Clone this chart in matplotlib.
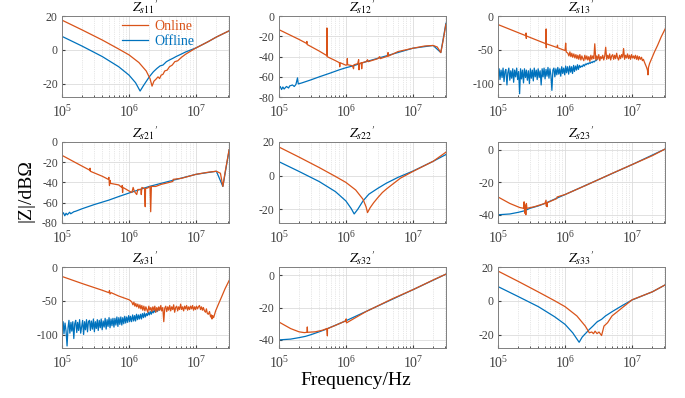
import matplotlib
matplotlib.use('Agg')
import matplotlib.pyplot as plt
from matplotlib.ticker import LogLocator, NullFormatter

# ---- data (frequency in Hz, |Z| in dB) ----
f11_on = [1e5, 2e5, 4e5, 7e5, 1e6, 1.4e6, 1.8e6, 2.05e6, 2.2e6, 2.35e6, 2.5e6, 2.7e6, 2.85e6, 3e6,
          3.2e6, 3.4e6, 3.7e6, 4e6, 4.4e6, 4.8e6, 5.3e6, 6e6, 7e6, 8.5e6, 1e7, 1.5e7, 2e7, 3.1e7]
z11_on = [17.6, 11.8, 5.8, 0.5, -3, -7.5, -12.5, -17, -21.5, -18.5, -17.5, -16, -17, -15,
          -14.5, -12.5, -12, -10, -9, -7, -6.5, -4.5, -2.5, -0.5, 1.2, 4.8, 7.6, 11.3]
f11_off = [1e5, 2e5, 4e5, 7e5, 1e6, 1.25e6, 1.46e6, 1.65e6, 2e6, 2.3e6, 2.6e6, 2.9e6, 3.2e6, 3.6e6,
           4e6, 4.5e6, 5e6, 6e6, 7e6, 1e7, 1.5e7, 2e7, 3.1e7]
z11_off = [8, 2.2, -4, -10, -15, -19.5, -24.4, -21, -16, -13, -11, -9.5, -9, -7,
           -6, -5, -4, -2.5, -1.2, 1.2, 4.8, 7.6, 11.3]

f12_on = [1e5, 2e5, 2.6e5, 2.62e5, 2.64e5, 4e5, 5.2e5, 5.22e5, 5.24e5, 7e5, 8e5, 8.1e5, 8.2e5, 1e6,
          1.04e6, 1.05e6, 1.06e6, 1.25e6, 1.3e6, 1.32e6, 1.5e6, 1.55e6, 1.57e6, 1.6e6, 1.7e6, 1.72e6,
          1.75e6, 2e6, 2.1e6, 2.15e6, 3e6, 3.2e6, 3.25e6, 4.2e6, 4.25e6, 4.3e6, 6e6, 1e7, 1.5e7, 2e7,
          2.3e7, 2.6e7, 2.8e7, 3.1e7]
z12_on = [-13.3, -23, -27, -25, -28, -34.5, -39, -11.7, -40, -44, -46, -50, -46, -48.5,
          -48, -42, -48, -49, -52, -48, -47, -43, -53, -47, -46, -52,
          -46, -45, -43, -45, -42, -40, -42, -39.5, -36, -39.5, -35, -31.7, -29.5, -29,
          -30.5, -36, -25, -8]
f12_off = [1e5, 1.05e5, 1.1e5, 1.15e5, 1.2e5, 1.3e5, 1.4e5, 1.45e5, 1.6e5, 1.7e5, 1.8e5, 1.9e5,
           1.95e5, 2.2e5, 3e5, 4e5, 6e5, 8e5, 1e6, 1.3e6, 2e6, 1e7, 2e7, 2.6e7, 3.1e7]
z12_off = [-71.7, -69.5, -72.5, -70, -72, -69.5, -71, -69, -68, -69.5, -67.5, -61,
           -67, -66, -63, -60, -56, -53, -51, -49, -45, -31.7, -29, -36, -7]

# dense grid for the noisy low-frequency offline traces
f_low = [1.00e5, 1.04e5, 1.07e5, 1.11e5, 1.15e5, 1.19e5, 1.23e5, 1.27e5, 1.31e5, 1.36e5,
         1.40e5, 1.45e5, 1.50e5, 1.55e5, 1.60e5, 1.66e5, 1.71e5, 1.77e5, 1.83e5, 1.90e5,
         1.96e5, 2.03e5, 2.10e5, 2.17e5, 2.24e5, 2.32e5, 2.40e5, 2.48e5, 2.57e5, 2.65e5,
         2.74e5, 2.84e5, 2.94e5, 3.04e5, 3.14e5, 3.25e5, 3.36e5, 3.47e5, 3.59e5, 3.72e5,
         3.84e5, 3.97e5, 4.11e5, 4.25e5, 4.40e5, 4.55e5, 4.70e5, 4.86e5, 5.03e5, 5.20e5,
         5.38e5, 5.56e5, 5.75e5, 5.95e5, 6.15e5, 6.36e5, 6.58e5, 6.81e5, 7.04e5, 7.28e5,
         7.53e5, 7.79e5, 8.06e5, 8.33e5, 8.62e5, 8.91e5, 9.21e5, 9.53e5, 9.86e5, 1.02e6,
         1.05e6, 1.09e6, 1.13e6, 1.17e6, 1.21e6, 1.25e6, 1.29e6, 1.34e6, 1.38e6, 1.43e6,
         1.48e6, 1.53e6, 1.58e6, 1.64e6, 1.69e6, 1.75e6, 1.81e6, 1.87e6, 1.94e6, 2.00e6,
         2.07e6, 2.14e6, 2.22e6, 2.29e6, 2.37e6, 2.45e6, 2.54e6, 2.62e6, 2.71e6, 2.81e6,
         2.90e6, 3.00e6]
# dense grid for the noisy mid-frequency online traces
f_band = [1.10e6, 1.14e6, 1.18e6, 1.22e6, 1.26e6, 1.30e6, 1.35e6, 1.40e6, 1.45e6, 1.50e6,
          1.55e6, 1.60e6, 1.66e6, 1.72e6, 1.78e6, 1.84e6, 1.90e6, 1.97e6, 2.04e6, 2.11e6,
          2.18e6, 2.26e6, 2.34e6, 2.42e6, 2.50e6, 2.59e6, 2.68e6, 2.77e6, 2.87e6, 2.97e6,
          3.07e6, 3.18e6, 3.29e6, 3.40e6, 3.52e6, 3.64e6, 3.77e6, 3.90e6, 4.03e6, 4.17e6,
          4.32e6, 4.47e6, 4.62e6, 4.78e6, 4.95e6, 5.12e6, 5.30e6, 5.48e6, 5.67e6, 5.87e6,
          6.07e6, 6.28e6, 6.50e6, 6.72e6, 6.96e6, 7.20e6, 7.45e6, 7.71e6, 7.97e6, 8.25e6,
          8.54e6, 8.83e6, 9.14e6, 9.45e6, 9.78e6, 1.01e7, 1.05e7, 1.08e7, 1.12e7, 1.16e7,
          1.20e7, 1.24e7, 1.28e7, 1.33e7, 1.38e7, 1.42e7, 1.47e7]

f13_head = [1e5, 2e5, 2.6e5, 2.62e5, 2.64e5, 2.66e5, 4e5, 5.2e5, 5.22e5, 5.24e5, 5.26e5,
            7.6e5, 7.7e5, 7.8e5, 1e6, 1.02e6, 1.04e6]
z13_head = [-12.5, -24.5, -29, -25, -33, -29.5, -36.5, -41, -19, -47, -41,
            -46.5, -43, -47, -51, -40, -53]
z13_band = [-55, -59, -53, -60, -55, -61, -56, -62, -57, -63,
            -58, -64, -57, -65, -59, -63, -66, -58, -64, -59,
            -65, -60, -67, -58, -64, -59, -63, -41, -65, -59,
            -64, -57, -66, -60, -63, -58, -65, -59, -46, -64,
            -58, -63, -56, -65, -59, -57, -64, -58, -63, -55,
            -62, -65, -58, -63, -57, -61, -48, -64, -58, -62,
            -56, -63, -58, -64, -57, -62, -59, -63, -58, -64,
            -59, -65, -60, -64, -61, -66, -64]
f13_tail = [1.52e7, 1.58e7, 1.64e7, 1.69e7, 1.72e7, 1.75e7, 1.82e7, 1.95e7, 2.15e7, 2.4e7, 2.7e7, 3.1e7]
z13_tail = [-68, -72, -76, -80, -87, -76, -70, -63, -53, -43, -31, -19]
z13_off = [-88, -78, -94, -80, -91, -77, -97, -82, -79, -102,
           -84, -77, -95, -81, -92, -78, -98, -80, -90, -77,
           -94, -82, -115, -78, -93, -80, -99, -78, -91, -80,
           -95, -81, -100, -78, -92, -80, -96, -77, -90, -80,
           -94, -78, -91, -81, -102, -78, -90, -77, -93, -79,
           -89, -76, -92, -78, -88, -110, -80, -77, -90, -78,
           -87, -76, -86, -78, -89, -75, -85, -77, -87, -74,
           -84, -75, -86, -74, -83, -75, -85, -73, -82, -74,
           -80, -72, -79, -73, -76, -74, -75, -72, -74, -71,
           -72, -70, -71, -69, -70, -68, -69, -67, -68, -66,
           -66, -64]

f21_on = [1e5, 2e5, 2.6e5, 2.62e5, 2.64e5, 4e5, 4.9e5, 5e5, 5.1e5, 5.2e5, 5.3e5, 7e5, 7.8e5, 7.9e5,
          8e5, 8.1e5, 1e6, 1.1e6, 1.15e6, 1.2e6, 1.3e6, 1.35e6, 1.5e6, 1.52e6, 1.55e6, 1.7e6, 1.74e6,
          1.76e6, 1.9e6, 2.05e6, 2.1e6, 2.15e6, 2.5e6, 3e6, 4e6, 4.5e6, 4.55e6, 6e6, 1e7, 1.5e7, 2e7,
          2.3e7, 2.5e7, 2.7e7, 3.1e7]
z21_on = [-13.3, -24, -28, -26, -29, -34, -37, -35, -43, -38, -41, -42.5, -45, -43,
          -50, -45, -48.5, -50, -45, -49, -52, -47, -47, -52, -45, -46, -64,
          -46, -45.5, -44, -69, -44, -44, -42, -40, -39, -37, -36, -32, -30, -29,
          -31, -44, -30, -7.6]
f21_off = [1e5, 1.05e5, 1.1e5, 1.15e5, 1.2e5, 1.3e5, 1.35e5, 1.5e5, 1.6e5, 2e5, 3e5, 5e5, 7e5, 1e6,
           2e6, 1e7, 2e7, 2.5e7, 3.1e7]
z21_off = [-71.7, -70, -73, -70.5, -72, -69.5, -71, -69, -68.5, -66, -62, -57.5, -54, -50.5,
           -44, -32, -29, -44, -8]

f22_on = [1e5, 2e5, 4e5, 7e5, 1e6, 1.4e6, 1.8e6, 2e6, 2.1e6, 2.3e6, 2.6e6, 3e6, 3.5e6, 4e6, 5e6,
          6.5e6, 1e7, 2e7, 3.1e7]
z22_on = [17, 11, 4.8, -0.5, -4, -8.5, -14, -18.5, -21.9, -19, -16, -13, -10, -8, -5,
          -1.5, 2.5, 8.5, 13.9]
f22_off = [1e5, 2e5, 4e5, 7e5, 1e6, 1.2e6, 1.33e6, 1.5e6, 1.8e6, 2.2e6, 3e6, 4e6, 6e6, 1e7, 2e7, 3.1e7]
z22_off = [8.3, 2.5, -3.5, -9.5, -15, -19.5, -22.7, -20, -15, -11, -7.5, -4.5, -1, 2.7, 8.5, 12.5]

f23_on = [1e5, 1.5e5, 2.1e5, 2.4e5, 2.45e5, 2.5e5, 2.55e5, 2.6e5, 2.65e5, 2.7e5, 3.5e5, 5e5, 5.2e5,
          5.25e5, 5.3e5, 5.4e5, 5.45e5, 7.5e5, 7.6e5, 1e6, 2e6, 5e6, 1e7, 2e7, 3.1e7]
z23_on = [-29, -33, -35.5, -36, -32, -39, -34, -40, -33, -36, -35, -33, -31,
          -34.5, -32.5, -35, -32.5, -30, -29, -27.5, -22, -14.5, -9, -3.5, 0.6]
f23_off = [1e5, 1.5e5, 2e5, 2.5e5, 3e5, 4e5, 5e5, 1e6, 1e7, 3.1e7]
z23_off = [-40, -39.5, -38.5, -37.5, -36, -34.5, -33, -27.5, -9, 0.6]

f31_head = [1e5, 2e5, 4e5, 5e5, 5.1e5, 5.2e5, 5.4e5, 7e5, 1e6, 1.05e6]
z31_head = [-14, -24.5, -34.5, -38, -35, -40, -38, -43, -48.5, -50]
z31_band = [-52, -56, -52, -58, -54, -59, -55, -61, -56, -62,
            -57, -64, -58, -65, -59, -63, -67, -58, -64, -60,
            -66, -59, -64, -58, -67, -60, -65, -59, -64, -57,
            -65, -60, -81, -61, -58, -66, -59, -64, -57, -65,
            -59, -63, -56, -67, -60, -58, -65, -59, -63, -55,
            -63, -59, -65, -58, -62, -57, -64, -59, -63, -58,
            -62, -57, -64, -59, -63, -58, -62, -59, -57, -63,
            -59, -64, -60, -65, -67, -62, -69]
f31_tail = [1.52e7, 1.58e7, 1.64e7, 1.69e7, 1.72e7, 1.76e7, 1.82e7, 1.95e7, 2.15e7, 2.4e7, 2.7e7, 3.1e7]
z31_tail = [-70, -66, -74, -71, -77, -72, -75, -65, -55, -44, -32, -20]
z31_off = [-94, -81, -99, -83, -95, -117, -90, -79, -98, -82,
           -95, -81, -106, -84, -79, -97, -82, -94, -78, -98,
           -89, -79, -100, -81, -93, -78, -96, -81, -79, -94,
           -80, -92, -77, -96, -81, -91, -78, -94, -79, -90,
           -77, -93, -80, -89, -76, -92, -78, -88, -75, -90,
           -77, -87, -76, -89, -76, -86, -74, -88, -75, -85,
           -74, -86, -75, -84, -73, -83, -74, -82, -72, -81,
           -73, -81, -71, -80, -72, -80, -70, -78, -71, -77,
           -70, -77, -69, -75, -68, -74, -69, -72, -67, -71,
           -66, -70, -65, -68, -64, -67, -63, -66, -62, -64,
           -61, -62]

f32_on = [1e5, 1.5e5, 2e5, 2.4e5, 2.64e5, 2.66e5, 2.68e5, 3.5e5, 4.5e5, 5.2e5, 5.3e5, 5.32e5, 5.34e5,
          7e5, 1e6, 1.01e6, 1.02e6, 2e6, 5e6, 1e7, 2e7, 3.1e7]
z32_on = [-28.9, -33, -35, -35.5, -35.3, -32, -35.3, -35, -34, -33, -37.5, -33, -33,
          -31, -28.2, -27, -29.5, -22.5, -14.5, -9, -3, 0.6]
f32_off = [1e5, 1.5e5, 2e5, 2.5e5, 3e5, 4e5, 5e5, 1e6, 1e7, 3.1e7]
z32_off = [-40, -39.5, -38.6, -37.8, -36.8, -35, -33.5, -28.2, -9, 0.6]

f33_on = [1e5, 2e5, 4e5, 7e5, 1e6, 1.5e6, 2e6, 2.3e6, 2.5e6, 2.65e6, 2.8e6, 3e6, 3.2e6, 3.5e6, 3.8e6,
          4.3e6, 5e6, 6e6, 8e6, 1e7, 2e7, 3.1e7]
z33_on = [17.6, 11.5, 5.2, 0, -3.5, -9, -15, -19, -18.5, -19.5, -18, -19.5, -18.5, -20.6, -15,
          -13, -9, -6.5, -2.5, 0.6, 5.3, 9.4]
f33_off = [1e5, 2e5, 4e5, 7e5, 1e6, 1.3e6, 1.62e6, 1.8e6, 2.3e6, 2.6e6, 3e6, 3.5e6, 4e6, 5e6, 7e6,
           1e7, 2e7, 3.1e7]
z33_off = [8.4, 2.5, -3.5, -9.5, -14, -19, -24.6, -21.5, -17, -15, -12.5, -11, -9, -6.5, -3,
           0.5, 5.3, 9.4]

titles = ["11", "12", "13", "21", "22", "23", "31", "32", "33"]
online = [(f11_on, z11_on), (f12_on, z12_on),
          (f13_head + f_band + f13_tail, z13_head + z13_band + z13_tail),
          (f21_on, z21_on), (f22_on, z22_on), (f23_on, z23_on),
          (f31_head + f_band + f31_tail, z31_head + z31_band + z31_tail),
          (f32_on, z32_on), (f33_on, z33_on)]
offline = [(f11_off, z11_off), (f12_off, z12_off), (f_low, z13_off),
           (f21_off, z21_off), (f22_off, z22_off), (f23_off, z23_off),
           (f_low, z31_off), (f32_off, z32_off), (f33_off, z33_off)]
ylims = [(-28, 20), (-80, 0), (-120, 0), (-80, 0), (-28, 20), (-45, 5), (-120, 0), (-45, 5), (-28, 20)]
yticks = [[-20, 0, 20], [-80, -60, -40, -20, 0], [-100, -50, 0],
          [-80, -60, -40, -20, 0], [-20, 0, 20], [-40, -20, 0],
          [-100, -50, 0], [-40, -20, 0], [-20, 0, 20]]

c_on = '#D95319'
c_off = '#0072BD'

plt.rcParams['font.family'] = ['Liberation Serif', 'DejaVu Serif']
plt.rcParams['mathtext.fontset'] = 'stix'
plt.rcParams['axes.unicode_minus'] = False

fig = plt.figure(figsize=(6.85, 3.98), dpi=100)

lefts = [0.0905, 0.407, 0.727]
bottoms = [0.756, 0.440, 0.1256]
w, h = 0.244, 0.2035

for i in range(9):
    ax = fig.add_axes([lefts[i % 3], bottoms[i // 3], w, h])
    fo, zo = offline[i]
    fn, zn = online[i]
    l_off, = ax.plot(fo, zo, color=c_off, lw=0.9)
    l_on, = ax.plot(fn, zn, color=c_on, lw=0.9)
    ax.set_xscale('log')
    ax.set_xlim(1e5, 3.1e7)
    ax.set_ylim(*ylims[i])
    ax.set_yticks(yticks[i])
    ax.xaxis.set_minor_locator(LogLocator(base=10, subs=range(2, 10), numticks=20))
    ax.xaxis.set_minor_formatter(NullFormatter())
    ax.grid(True, which='major', color='#dcdcdc', lw=0.6)
    ax.grid(True, which='minor', axis='x', color='#d0d0d0', lw=0.5, ls=':')
    ax.set_axisbelow(True)
    for s in ax.spines.values():
        s.set_color('#7f7f7f')
        s.set_linewidth(0.7)
    ax.tick_params(which='both', direction='in', colors='#404040')
    ax.tick_params(axis='y', labelsize=8.5, pad=3)
    ax.tick_params(axis='x', labelsize=10, pad=5)
    ax.tick_params(which='major', length=2.5)
    ax.tick_params(which='minor', length=1.3)
    ax.set_title(r"$Z_{s%s}{}^{\prime}$" % titles[i], fontsize=10, pad=1.5)
    if i == 0:
        leg = ax.legend([l_on, l_off], ['Online', 'Offline'], loc='upper left',
                        bbox_to_anchor=(0.32, 1.035), frameon=False, fontsize=10,
                        handlelength=1.85, handletextpad=0.45, labelspacing=0.15, borderpad=0)
        for t, c in zip(leg.get_texts(), [c_on, c_off]):
            t.set_color(c)

fig.text(0.038, 0.52, '|Z|/dBΩ', rotation=90, ha='center', va='center', fontsize=14)
fig.text(0.52, 0.043, 'Frequency/Hz', ha='center', va='center', fontsize=14)

fig.savefig('out.png', dpi=100)
